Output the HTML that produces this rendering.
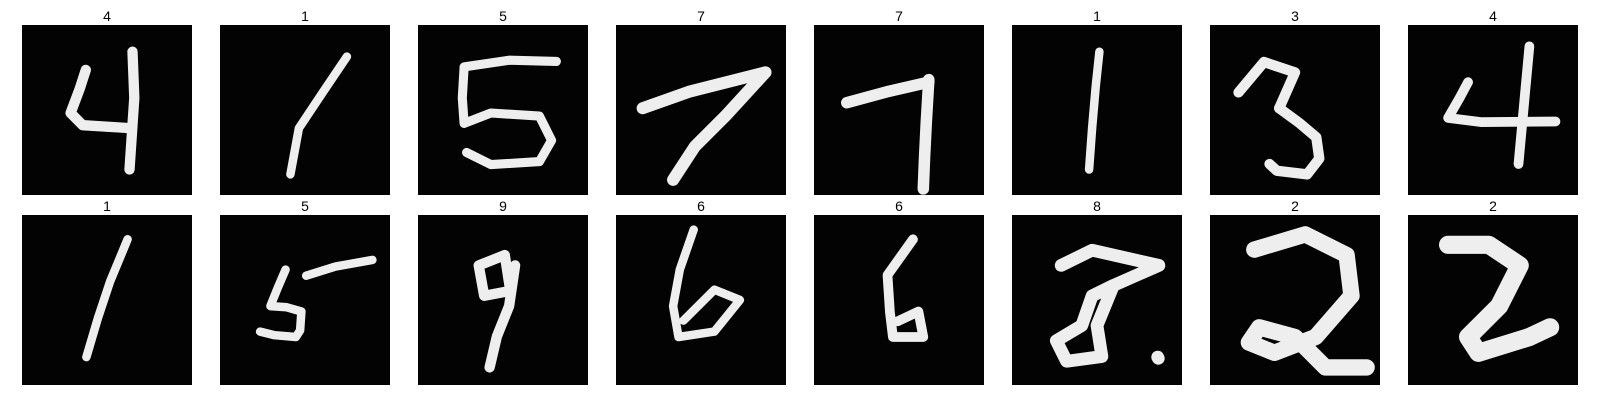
<!DOCTYPE html>
<html><head><meta charset="utf-8"><style>
html,body{margin:0;padding:0;background:#fff;width:1600px;height:400px;overflow:hidden;font-family:"Liberation Sans","DejaVu Sans",sans-serif;}
#fig{position:absolute;left:0;top:0;}
</style></head><body>
<svg id="fig" width="1600" height="400"></svg>
<script>
const labels = [4,1,5,7,7,1,3,4,1,5,9,6,6,8,2,2];
const strokes = [
 [[[18.2,4.4],[18.5,12],[17.7,23.8]],[[10.5,7.4],[9.5,10.5],[8,14.5],[10,16.5],[18,17]]],
 [[[20.9,5.2],[17,11],[13,17],[11.6,24.6]]],
 [[[7.6,6.9],[15,5.8],[22.8,6]],[[7.6,7],[7.3,12],[7.6,16.2],[12,14.5],[20,15],[22,19],[20,22.5],[12,23],[8,21]]],
 [[[4.4,13.7],[12,11],[24.6,7.8]],[[24.6,7.8],[18,15],[13,20],[9.4,25.5]]],
 [[[5.4,12.8],[12,11],[18.9,9.4]],[[18.9,9],[18.5,16],[18.2,22],[18,27]]],
 [[[14.4,4.4],[13.8,10],[13.2,17],[12.7,23.8]]],
 [[[4.7,11.1],[8.9,6.1],[14,7.8],[11.4,13.7]],[[11.4,13.7],[14.8,16.2],[17.5,18.5],[18,22],[16,24.6],[11,24],[9.8,22.9]]],
 [[[20,3.5],[19.2,12],[18.2,22.9]],[[9.9,9.4],[8.5,12],[6.6,15.3],[12,16],[24.3,15.9]]],
 [[[17.4,4],[14.5,11],[12.5,17],[10.6,23.4]]],
 [[[14.2,10],[19,8.5],[25.1,7.4]],[[10.8,9],[9.5,12],[8.3,15],[11,15.2],[13.4,15.9],[13.2,19],[12.5,20.1],[9,19.8],[6.6,19.2]]],
 [[[10,8.3],[14.3,6.6],[15.2,12.5],[10.9,13.3],[10,8.3]],[[16,8.3],[15,15],[13,20],[11.8,25.1]]],
 [[[12.8,2.4],[10.5,9],[9.4,15],[10.3,20.1],[16.2,19.2],[20.4,14],[16.2,12.3],[11.1,17.4]]],
 [[[16.3,4],[12.1,9.9],[12.5,16],[13,20.1],[18,20.1],[17.2,15.9],[13.8,17.5]]],
 [[[8.1,8.3],[13.2,5.8],[24.2,8.3],[16.7,11.6],[13.2,13.3],[11.5,18.2],[7.3,20.7],[9,24.1],[14.8,23.3],[14,18.2],[16.7,11.6]],[[24,23.4],[24.1,23.6]]],
 [[[7.3,5.7],[15.7,3.2],[22.5,6.6],[23.3,13.3],[17.4,20.1],[10.6,22.7],[6.4,21],[8.1,18.5],[14,20.1],[19,25.1],[25.8,25.1]]],
 [[[6.6,4.9],[13.3,4.9],[18.4,8.3],[15,15],[9.9,20.1],[11.6,22.7],[20,20.1],[23.4,18.5]]]
];
const widths = [1.7,1.4,1.5,2.0,1.9,1.4,1.7,1.6,1.4,1.4,1.7,1.4,1.6,2.1,2.7,3.0];
const NS="http://www.w3.org/2000/svg";
const svg=document.getElementById('fig');
const S=170, X0=22, DX=198, Y0=[25,215];
labels.forEach((lab,i)=>{
  const c=i%8, r=Math.floor(i/8);
  const x=X0+c*DX, y=Y0[r], u=S/28;
  const g=document.createElementNS(NS,'g');
  
  
  const rect=document.createElementNS(NS,'rect');
  rect.setAttribute('x',x);rect.setAttribute('y',y);rect.setAttribute('width',S);rect.setAttribute('height',S);rect.setAttribute('fill','#030303');
  
  
  g.appendChild(rect);
  strokes[i].forEach(s=>{
    const p=document.createElementNS(NS,'polyline');
    p.setAttribute('points',s.map(q=>(x+q[0]*u).toFixed(1)+','+(y+q[1]*u).toFixed(1)).join(' '));
    p.setAttribute('fill','none');p.setAttribute('stroke','#eeeeee');
    p.setAttribute('stroke-width',widths[i]*u);p.setAttribute('stroke-linecap','round');p.setAttribute('stroke-linejoin','round');
    
    
    g.appendChild(p);
  });
  const t=document.createElementNS(NS,'text');
  t.setAttribute('x',x+S/2);t.setAttribute('y',y-4);t.setAttribute('text-anchor','middle');
  t.setAttribute('font-size','14');t.setAttribute('fill','#000');
  t.setAttribute('font-family','Liberation Sans, DejaVu Sans, sans-serif');
  t.textContent=lab;
  
  
  g.appendChild(t);
  svg.appendChild(g);
});
</script>
</body></html>
